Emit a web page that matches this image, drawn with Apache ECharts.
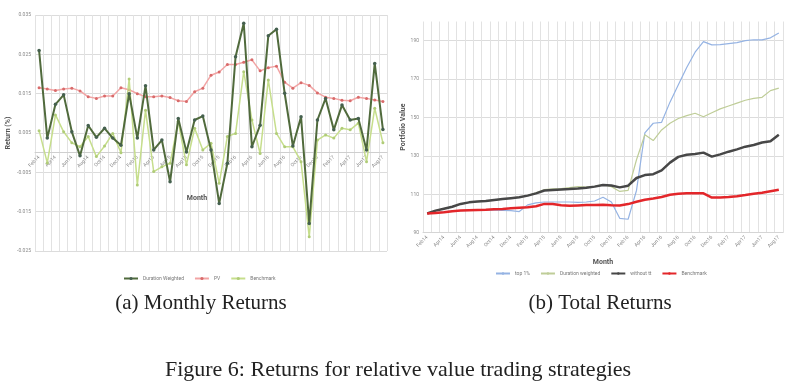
<!DOCTYPE html>
<html>
<head>
<meta charset="utf-8">
<script src="https://cdn.jsdelivr.net/npm/echarts@6/dist/echarts.min.js"></script>
<style>
html,body{margin:0;padding:0;background:#fff;}
#c{width:800px;height:384px;}
</style>
</head>
<body>
<div id="c"></div>
<script>
// ---- categories / tick labels ----
const months = ['Feb14','Mar14','Apr14','May14','Jun14','Jul14','Aug14','Sep14','Oct14','Nov14','Dec14','Jan15',
  'Feb15','Mar15','Apr15','May15','Jun15','Jul15','Aug15','Sep15','Oct15','Nov15','Dec15','Jan16',
  'Feb16','Mar16','Apr16','May16','Jun16','Jul16','Aug16','Sep16','Oct16','Nov16','Dec16','Jan17',
  'Feb17','Mar17','Apr17','May17','Jun17','Jul17','Aug17'];
const leftTicks = [-0.025, -0.015, -0.005, 0.005, 0.015, 0.025, 0.035];
const rightTicks = [90, 110, 130, 150, 170, 190];

// ---- (a) Monthly returns ----
const durationWeighted = [0.026,0.0037,0.0123,0.0147,0.0053,-0.0008,0.0069,0.0039,0.0062,0.0037,
  0.0019,0.015,0.0037,0.017,0.0007,0.0032,-0.0074,0.0087,0.0002,0.0083,
  0.0093,0.0007,-0.0129,-0.0027,0.0244,0.0329,0.0015,0.007,0.0297,0.0314,
  0.0151,0.0017,0.0091,-0.018,0.0083,0.0138,0.0058,0.0121,0.0083,0.0087,
  0.0007,0.0227,0.0059];
const pv = [0.0165,0.0162,0.0158,0.0162,0.0164,0.0157,0.0142,0.0138,0.0144,0.0144,
  0.0165,0.016,0.015,0.0142,0.0142,0.0144,0.014,0.0132,0.013,0.0155,
  0.0164,0.0197,0.0205,0.0224,0.0224,0.023,0.0236,0.0208,0.0216,0.022,
  0.0179,0.0164,0.0178,0.0171,0.0152,0.0141,0.0138,0.0133,0.0132,0.0141,
  0.0138,0.0134,0.013];
const benchmarkMonthly = [0.0056,-0.0026,0.0096,0.0053,0.0025,0.0015,0.0041,-0.001,0.0017,0.0049,
  0.0,0.0187,-0.0082,0.0108,-0.0048,-0.0036,-0.0027,0.0079,-0.0031,0.0062,
  0.0007,0.0024,-0.0078,0.0041,0.0049,0.0206,0.0083,-0.0002,0.0185,0.0049,
  0.0015,0.0015,-0.0023,-0.0214,0.0032,0.0045,0.0037,0.0062,0.0058,0.0075,
  -0.0023,0.0113,0.0025];

// ---- (b) Total returns ----
const top1 = [100,100.5,100.8,101.2,101.5,101.6,101.7,101.8,101.7,101.6,
  101.5,101,104.5,105.5,106,106,106,106,105.8,106,
  106.5,108.5,106,97.5,97,112,142,147,147.5,158,
  167,176,184,189.5,187.8,188,188.5,189,190,190.5,
  190.4,191.5,194];
const durWeightedTotal = [100,101.5,102.5,103.5,105,105.8,106.2,106.5,107,107.5,
  108,108.5,109.3,110.8,112.5,112.8,113,113.5,114,113.8,
  114.2,115,114,111.5,112,128,141,138,143.5,147,
  149.5,151,152.2,150.4,152.5,154.5,156,157.5,159,160,
  160.5,164,165.3];
const withoutTT = [100,101.5,102.5,103.5,105,105.8,106.2,106.5,107,107.5,
  108,108.5,109.3,110.5,112,112.3,112.5,112.7,113,113.4,
  114,114.8,114.6,113.6,114.5,118.5,120,120.5,122.5,126.5,
  129.5,130.6,131,131.7,129.6,130.8,132.2,133.4,134.8,135.7,
  137,137.6,141];
const benchmarkTotal = [100,100.3,100.6,101.2,101.5,101.7,101.8,101.9,102.2,102.4,
  102.7,103,103.3,103.8,105,104.9,104.3,104,104.2,104.4,
  104.4,104.5,104.3,104.2,104.9,106.1,107.2,107.8,108.6,109.8,
  110.3,110.5,110.6,110.5,108.3,108.3,108.6,109,109.6,110.3,
  110.8,111.6,112.4];

const chart = echarts.init(document.getElementById('c'), null, {renderer:'canvas'});
const small = {fontFamily:'Roboto', fontSize:5, color:'#8a8a8a'};
const axisName = {fontFamily:'Roboto', fontSize:7, color:'#555', fontWeight:'bold'};
const serifSub = {fontFamily:'Liberation Serif', fontSize:21, fontWeight:'normal', color:'#222'};
const serifFig = {fontFamily:'Liberation Serif', fontSize:22, fontWeight:'normal', color:'#222'};

// left grid geometry: zero line offset from the bottom of the plot
const LTOP = 15, LH = 236, LMIN = -0.025, LMAX = 0.035;
const zeroOffset = -(LH * (0 - LMIN) / (LMAX - LMIN));

chart.setOption({
  animation:false,
  backgroundColor:'#fff',
  title:[
    {text:'(a) Monthly Returns', left:196, top:288, textAlign:'center', textStyle:serifSub},
    {text:'(b) Total Returns', left:595, top:288, textAlign:'center', textStyle:serifSub},
    {text:'Figure 6: Returns for relative value trading strategies', left:393, top:354, textAlign:'center', textStyle:serifFig}
  ],
  legend:[
    {data:['Duration Weighted','PV','Benchmark'], left:118, top:271, itemWidth:14, itemHeight:4, itemGap:10,
     textStyle:{fontFamily:'Roboto', fontSize:5, color:'#777'}},
    {data:['top 1%','Duration weighted','without tt','Benchmark '], left:490, top:266, itemWidth:14, itemHeight:3, itemGap:10,
     formatter: n => n.trim(), textStyle:{fontFamily:'Roboto', fontSize:5, color:'#777'}}
  ],
  grid:[
    {left:35, top:LTOP, width:352, height:LH},
    {left:423, top:21.5, width:360, height:211.2}
  ],
  xAxis:[
    {gridIndex:0, type:'category', data:months, boundaryGap:true, position:'bottom', offset:zeroOffset,
     name:'Month', nameLocation:'middle', nameGap:42,
     nameTextStyle:Object.assign({padding:[0,28,0,0]}, axisName),
     axisLine:{onZero:false, lineStyle:{color:'#cfcfcf', width:1}},
     axisTick:{show:false, interval:0},
     axisLabel:Object.assign({interval:1, rotate:45, margin:4}, small),
     splitLine:{show:true, interval:0, lineStyle:{color:'#e2e2e2', width:1}}},
    {gridIndex:1, type:'category', data:months, boundaryGap:true,
     name:'Month', nameLocation:'middle', nameGap:26, nameTextStyle:axisName,
     axisLine:{show:true, lineStyle:{color:'#d5d5d5', width:1}},
     axisTick:{show:false, interval:0},
     axisLabel:Object.assign({interval:1, rotate:45, margin:4}, small),
     splitLine:{show:true, interval:0, lineStyle:{color:'#e2e2e2', width:1}}}
  ],
  yAxis:[
    {gridIndex:0, type:'value', min:LMIN, max:LMAX,
     name:'Return (%)', nameLocation:'middle', nameGap:23, nameTextStyle:axisName,
     axisLine:{show:false}, axisTick:{show:false, customValues:leftTicks},
     axisLabel:Object.assign({customValues:leftTicks, margin:4, formatter:v=>v.toFixed(3)}, small),
     splitLine:{show:true, lineStyle:{color:'#dcdcdc', width:1}}},
    {gridIndex:1, type:'value', min:90, max:200,
     name:'Portfolio Value', nameLocation:'middle', nameGap:15, nameTextStyle:axisName,
     axisLine:{show:false}, axisTick:{show:false, customValues:rightTicks},
     axisLabel:Object.assign({customValues:rightTicks, margin:4}, small),
     splitLine:{show:true, lineStyle:{color:'#dcdcdc', width:1}}}
  ],
  series:[
    {name:'Duration Weighted', type:'line', xAxisIndex:0, yAxisIndex:0, data:durationWeighted,
     symbol:'circle', symbolSize:3.5, z:5,
     lineStyle:{color:'#506a3c', width:2}, itemStyle:{color:'#45604f'}},
    {name:'PV', type:'line', xAxisIndex:0, yAxisIndex:0, data:pv,
     symbol:'circle', symbolSize:3, z:3,
     lineStyle:{color:'#f2a4a4', width:1.5}, itemStyle:{color:'#d86b6b'}},
    {name:'Benchmark', type:'line', xAxisIndex:0, yAxisIndex:0, data:benchmarkMonthly,
     symbol:'circle', symbolSize:3, z:4,
     lineStyle:{color:'#c6de8c', width:1.5}, itemStyle:{color:'#b0cc78'}},
    {name:'top 1%', type:'line', xAxisIndex:1, yAxisIndex:1, data:top1, symbol:'none',
     lineStyle:{color:'#95b3e3', width:1.2}, itemStyle:{color:'#95b3e3'}},
    {name:'Duration weighted', type:'line', xAxisIndex:1, yAxisIndex:1, data:durWeightedTotal, symbol:'none',
     lineStyle:{color:'#bfcd98', width:1.2}, itemStyle:{color:'#bfcd98'}},
    {name:'without tt', type:'line', xAxisIndex:1, yAxisIndex:1, data:withoutTT, symbol:'none', z:4,
     lineStyle:{color:'#474747', width:2.5}, itemStyle:{color:'#474747'}},
    {name:'Benchmark ', type:'line', xAxisIndex:1, yAxisIndex:1, data:benchmarkTotal, symbol:'none', z:5,
     lineStyle:{color:'#e3262a', width:2.5}, itemStyle:{color:'#e3262a'}}
  ]
});
</script>
</body>
</html>
